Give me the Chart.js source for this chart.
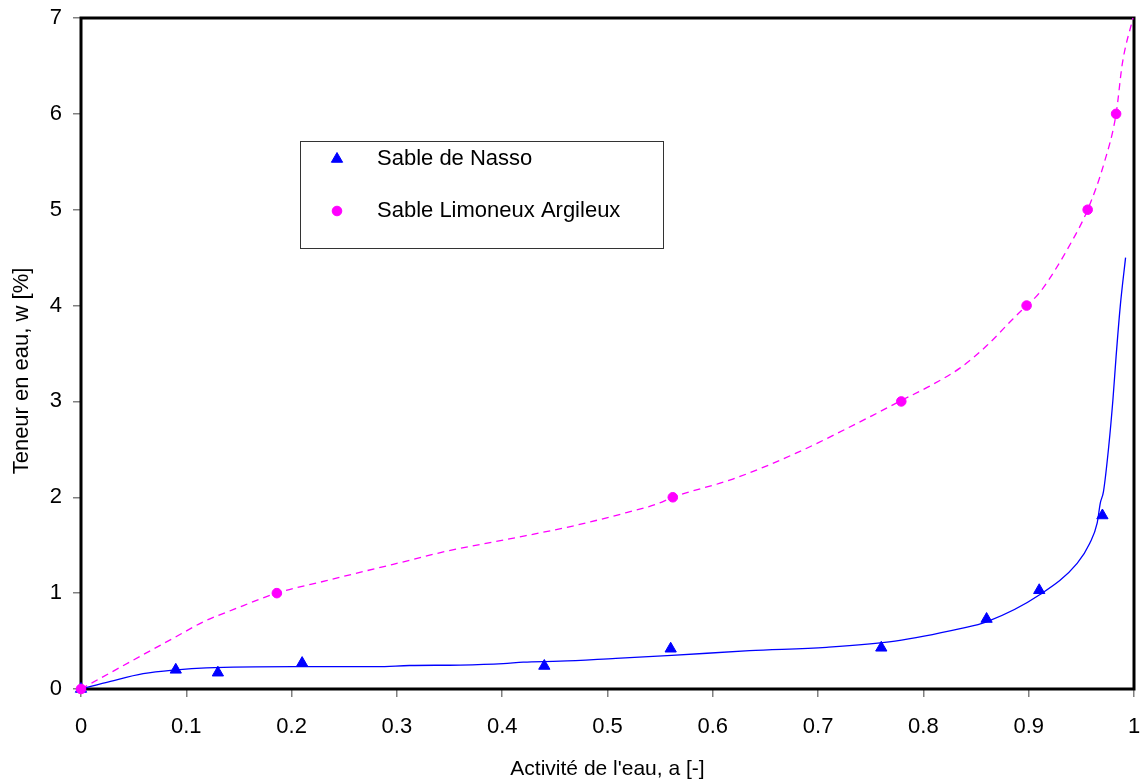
<!DOCTYPE html>
<html>
<head>
<meta charset="utf-8">
<title>Isothermes de sorption</title>
<script src="https://cdn.jsdelivr.net/npm/chart.js@4.4.0/dist/chart.umd.min.js"></script>
<style>
    html, body { margin: 0; padding: 0; background: #fff; }
    #wrap { width: 1143px; height: 783px; }
</style>
</head>
<body>
<div id="wrap"><canvas id="chartSorption" width="1143" height="783"></canvas></div>
<script>
/* Teneur en eau vs activité de l'eau */
const FONT = "'Liberation Sans', Arial, sans-serif";

// mesures
const nassoA = [0, 0.09, 0.13, 0.21, 0.44, 0.56, 0.76, 0.86, 0.91, 0.97];
const nassoW = [0, 0.20, 0.17, 0.27, 0.24, 0.42, 0.43, 0.73, 1.03, 1.81];
const limonA = [0, 0.186, 0.562, 0.779, 0.898, 0.956, 0.983];
const limonW = [0, 1, 2, 3, 4, 5, 6];

// courbes d'ajustement
const nassoFitA = [0, 0.028, 0.059, 0.091, 0.119, 0.202, 0.281, 0.312, 0.36, 0.401, 0.42, 0.455,
                   0.508, 0.561, 0.635, 0.708, 0.773, 0.835, 0.86, 0.91, 0.946, 0.958, 0.965,
                   0.968, 0.971, 0.976, 0.980, 0.983, 0.987, 0.992];
const nassoFitW = [0, 0.08, 0.16, 0.20, 0.22, 0.233, 0.233, 0.245, 0.25, 0.265, 0.28, 0.29,
                   0.32, 0.35, 0.40, 0.435, 0.50, 0.63, 0.70, 0.98, 1.31, 1.52, 1.73,
                   1.94, 2.06, 2.53, 3.02, 3.47, 4.0, 4.5];
const limonFitA = [0, 0.056, 0.091, 0.116, 0.145, 0.186, 0.233, 0.281, 0.315, 0.344, 0.404, 0.467,
                   0.518, 0.547, 0.562, 0.619, 0.679, 0.751, 0.779, 0.806, 0.835, 0.86, 0.885, 0.898,
                   0.91, 0.942, 0.956, 0.972, 0.983, 0.989, 0.999];
const limonFitW = [0, 0.34, 0.55, 0.70, 0.83, 1.0, 1.13, 1.26, 1.35, 1.43, 1.56, 1.70,
                   1.84, 1.93, 2.0, 2.19, 2.46, 2.85, 3.01, 3.16, 3.35, 3.58, 3.86, 4.0,
                   4.13, 4.69, 5.0, 5.5, 6.0, 6.53, 7.0];

const xMin = 0, xMax = 1, xStep = 0.1;
const yMin = 0, yMax = 7, yStep = 1;
const xTitle = "Activité de l'eau, a [-]";
const yTitle = 'Teneur en eau, w [%]';

const BLEU = '#0000ff';
const MAGENTA = '#ff00ff';

function toXY(xs, ys) {
    return xs.map((x, i) => ({ x, y: ys[i] }));
}

// cadre noir autour de la zone de tracé
const cadrePlugin = {
    id: 'cadre',
    beforeDatasetsDraw(chart) {
        const { ctx, chartArea: a } = chart;
        ctx.save();
        ctx.strokeStyle = '#000';
        ctx.lineWidth = 3;
        ctx.strokeRect(a.left, a.top, a.right - a.left, a.bottom - a.top);
        ctx.restore();
    }
};

// titre de l'axe Y (décalé comme sur l'original)
const titreYPlugin = {
    id: 'titreY',
    afterDraw(chart) {
        const ctx = chart.ctx;
        ctx.save();
        ctx.translate(28, 371);
        ctx.rotate(-Math.PI / 2);
        ctx.font = '22px ' + FONT;
        ctx.fillStyle = '#000';
        ctx.textAlign = 'center';
        ctx.textBaseline = 'alphabetic';
        ctx.fillText(yTitle, 0, 0);
        ctx.restore();
    }
};

// légende encadrée dans la zone de tracé
const legendePlugin = {
    id: 'legendeBox',
    afterDraw(chart) {
        const ctx = chart.ctx;
        const box = { x: 300, y: 141, w: 363, h: 107 };
        ctx.save();
        ctx.fillStyle = '#fff';
        ctx.fillRect(box.x, box.y, box.w, box.h);
        ctx.strokeStyle = '#333';
        ctx.lineWidth = 1;
        ctx.strokeRect(box.x + 0.5, box.y + 0.5, box.w, box.h);

        const items = [chart.data.datasets[1], chart.data.datasets[0]];
        items.forEach((ds, i) => {
            const cy = 159 + i * 52;
            ctx.fillStyle = ds.backgroundColor;
            ctx.strokeStyle = ds.borderColor;
            Chart.helpers.drawPoint(ctx, {
                pointStyle: ds.pointStyle,
                radius: ds.pointRadius,
                rotation: 0,
                borderWidth: ds.pointBorderWidth
            }, 337, cy);
            ctx.fillStyle = '#000';
            ctx.font = '22px ' + FONT;
            ctx.textAlign = 'left';
            ctx.textBaseline = 'middle';
            ctx.fillText(ds.label, 377, cy);
        });
        ctx.restore();
    }
};

new Chart(document.getElementById('chartSorption'), {
    type: 'scatter',
    data: {
        datasets: [
            {
                label: 'Sable Limoneux Argileux',
                data: toXY(limonA, limonW),
                pointStyle: 'circle',
                pointRadius: 4.8,
                pointBorderWidth: 1,
                backgroundColor: MAGENTA,
                borderColor: MAGENTA,
                clip: false
            },
            {
                label: 'Sable de Nasso',
                data: toXY(nassoA, nassoW),
                pointStyle: 'triangle',
                pointRadius: 6.5,
                pointBorderWidth: 1,
                backgroundColor: BLEU,
                borderColor: BLEU,
                clip: false
            },
            {
                label: 'ajustement limon',
                data: toXY(limonFitA, limonFitW),
                showLine: true,
                pointRadius: 0,
                borderColor: MAGENTA,
                borderWidth: 1.3,
                borderDash: [7, 5],
                cubicInterpolationMode: 'monotone',
                clip: false
            },
            {
                label: 'ajustement Nasso',
                data: toXY(nassoFitA, nassoFitW),
                showLine: true,
                pointRadius: 0,
                borderColor: BLEU,
                borderWidth: 1.3,
                cubicInterpolationMode: 'monotone',
                clip: false
            }
        ]
    },
    options: {
        responsive: false,
        animation: false,
        devicePixelRatio: 1,
        layout: { padding: { top: 18, right: 9, left: 0, bottom: 0 } },
        plugins: {
            legend: { display: false },
            tooltip: { enabled: false }
        },
        scales: {
            x: {
                type: 'linear',
                min: xMin, max: xMax,
                afterFit: s => { s.height = 94; s.paddingLeft = 0; s.paddingRight = 0; },
                ticks: {
                    stepSize: xStep,
                    padding: 17,
                    color: '#000',
                    font: { family: FONT, size: 22 },
                    callback: v => String(Number(v.toFixed(1)))
                },
                grid: { drawOnChartArea: false, tickLength: 8, color: '#808080', lineWidth: 1.5 },
                border: { display: false },
                title: {
                    display: true,
                    text: xTitle,
                    color: '#000',
                    font: { family: FONT, size: 21 },
                    padding: { top: 0, bottom: 1 }
                }
            },
            y: {
                type: 'linear',
                min: yMin, max: yMax,
                afterFit: s => { s.width = 81; s.paddingTop = 0; s.paddingBottom = 0; },
                ticks: {
                    stepSize: yStep,
                    padding: 11,
                    color: '#000',
                    font: { family: FONT, size: 22 }
                },
                grid: { drawOnChartArea: false, tickLength: 8, color: '#808080', lineWidth: 1.5 },
                border: { display: false }
            }
        }
    },
    plugins: [cadrePlugin, titreYPlugin, legendePlugin]
});
</script>
</body>
</html>
